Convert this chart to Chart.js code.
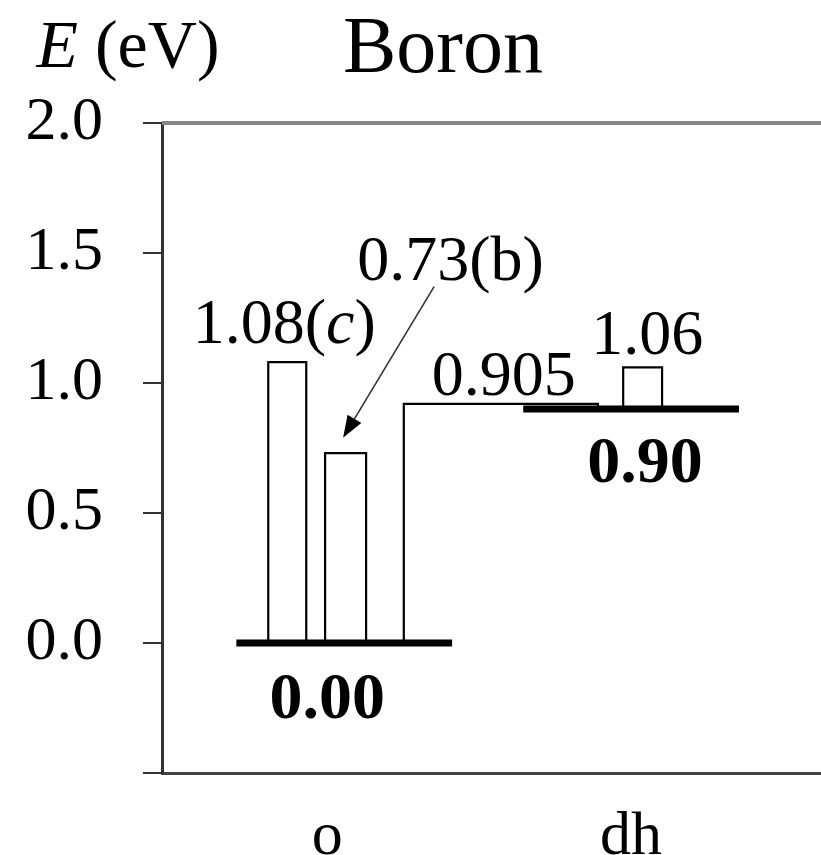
<!DOCTYPE html>
<html><head><meta charset="utf-8">
<script src="https://cdn.jsdelivr.net/npm/chart.js@4.4.1/dist/chart.umd.min.js"></script>
<style>html,body{margin:0;padding:0;background:#fff;overflow:hidden}#wrap{width:821px;height:855px;position:relative}</style>
</head><body><div id="wrap"><canvas id="c" width="821" height="855"></canvas></div>
<script>
// ---- data ----
const categories = ['o', 'dh'];
const yTickValues = [-0.5, 0.0, 0.5, 1.0, 1.5, 2.0];
const yTickLabels = ['', '0.0', '0.5', '1.0', '1.5', '2.0'];
const levelValues = [0.00, 0.90];
const levelLabels = ['0.00', '0.90'];
const oBarValues = [1.08, 0.73];
const oBarNames = ['1.08', '0.73'];
const oBarTags = ['c', 'b'];
const stepValue = 0.92;
const stepLabel = '0.905';
const dhBarBase = 0.90;
const dhBarValue = 1.06;
const dhBarLabel = '1.06';
const titleText = 'Boron';
const yAxisVar = 'E';
const yAxisUnit = ' (eV)';

// ---- layout (x offsets in category units) ----
const SERIF = "'Liberation Serif','Times New Roman',Times,serif";
const LEVEL_SPAN = [[-0.299, 0.411], [-0.355, 0.355]];
const O_BAR_SPAN = [[-0.194, -0.069], [-0.007, 0.128]];
const STEP_SPAN = [0.252, 0.891];
const DH_BAR_SPAN = [-0.026, 0.102];
const catX = i => i + 1;

const rect = (x0, x1, y0, y1) => [{x:x0,y:y0},{x:x0,y:y1},{x:x1,y:y1},{x:x1,y:y0}];
const lineStyle = (w) => ({showLine:true, pointRadius:0, borderColor:'#000', borderWidth:w,
  borderJoinStyle:'miter', borderCapStyle:'butt', fill:false, tension:0});

const datasets = [];
levelValues.forEach((v, i) => {
  datasets.push(Object.assign({data:[{x:catX(i)+LEVEL_SPAN[i][0], y:v},{x:catX(i)+LEVEL_SPAN[i][1], y:v}]}, lineStyle(7)));
});
oBarValues.forEach((v, j) => {
  datasets.push(Object.assign({data:rect(catX(0)+O_BAR_SPAN[j][0], catX(0)+O_BAR_SPAN[j][1], levelValues[0], v)}, lineStyle(2.2)));
});
datasets.push(Object.assign({data:[
  {x:catX(0)+STEP_SPAN[0], y:levelValues[0]},
  {x:catX(0)+STEP_SPAN[0], y:stepValue},
  {x:catX(0)+STEP_SPAN[1], y:stepValue},
  {x:catX(0)+STEP_SPAN[1], y:dhBarBase}]}, lineStyle(2.2)));
datasets.push(Object.assign({data:rect(catX(1)+DH_BAR_SPAN[0], catX(1)+DH_BAR_SPAN[1], dhBarBase, dhBarValue)}, lineStyle(2.2)));

function drawParts(ctx, parts, cx, base, size) {
  let total = 0;
  parts.forEach(p => { ctx.font = (p.it ? 'italic ' : '') + size + 'px ' + SERIF; p.w = ctx.measureText(p.t).width; total += p.w; });
  let x = cx - total / 2;
  ctx.textAlign = 'left';
  parts.forEach(p => { ctx.font = (p.it ? 'italic ' : '') + size + 'px ' + SERIF; ctx.fillText(p.t, x, base); x += p.w; });
}
function drawBold(ctx, t, cx, base, size) {
  ctx.font = 'bold ' + size + 'px ' + SERIF;
  ctx.textAlign = 'center';
  ctx.fillText(t, cx, base);
}

const annot = {
  id: 'annot',
  beforeDatasetsDraw(chart) {
    const {ctx, chartArea} = chart;
    ctx.save();
    ctx.strokeStyle = '#868686';
    ctx.lineWidth = 4;
    ctx.beginPath();
    ctx.moveTo(chartArea.left, chartArea.top);
    ctx.lineTo(chartArea.right, chartArea.top);
    ctx.stroke();
    ctx.restore();
  },
  afterDatasetsDraw(chart) {
    const {ctx} = chart;
    const xs = chart.scales.x, ys = chart.scales.y;
    const px = v => xs.getPixelForValue(v), py = v => ys.getPixelForValue(v);
    ctx.save();
    ctx.fillStyle = '#000';
    ctx.textBaseline = 'alphabetic';
    // title and axis label
    drawParts(ctx, [{t:yAxisVar, it:true}, {t:yAxisUnit}], 38 + 90, 67, 68);
    ctx.font = '80px ' + SERIF; ctx.textAlign = 'left';
    ctx.fillText(titleText, 343, 72);

    // o bars labels
    const b0c = px(catX(0) + (O_BAR_SPAN[0][0] + O_BAR_SPAN[0][1]) / 2);
    drawParts(ctx, [{t:oBarNames[0] + '('}, {t:oBarTags[0], it:true}, {t:')'}], b0c - 3, py(oBarValues[0]) - 19, 64);
    const b1c = px(catX(0) + (O_BAR_SPAN[1][0] + O_BAR_SPAN[1][1]) / 2);
    const tipX = b1c - 2.5, tipY = py(oBarValues[1]) - 15.5;
    const sX = tipX + 91, sY = tipY - 151;
    drawParts(ctx, [{t:oBarNames[1] + '(' + oBarTags[1] + ')'}], sX + 16.5, sY - 7, 64);
    // arrow
    const ang = Math.atan2(tipY - sY, tipX - sX);
    const hl = 22, hw = 8;
    const bx = tipX - hl * Math.cos(ang), by = tipY - hl * Math.sin(ang);
    ctx.strokeStyle = '#333'; ctx.lineWidth = 1.6;
    ctx.beginPath(); ctx.moveTo(sX, sY); ctx.lineTo(bx, by); ctx.stroke();
    ctx.fillStyle = '#000';
    ctx.beginPath();
    ctx.moveTo(tipX, tipY);
    ctx.lineTo(bx + hw * Math.sin(ang), by - hw * Math.cos(ang));
    ctx.lineTo(bx - hw * Math.sin(ang), by + hw * Math.cos(ang));
    ctx.closePath(); ctx.fill();

    // step label
    const sc = px(catX(0) + (STEP_SPAN[0] + STEP_SPAN[1]) / 2);
    drawParts(ctx, [{t:stepLabel}], sc + 3, py(stepValue) - 9, 64);
    // dh bar label
    const dc = px(catX(1) + (DH_BAR_SPAN[0] + DH_BAR_SPAN[1]) / 2);
    drawParts(ctx, [{t:dhBarLabel}], dc + 4.5, py(dhBarValue) - 13.5, 64);
    // level labels (bold)
    drawBold(ctx, levelLabels[0], px(catX(0)), py(levelValues[0]) + 75, 66);
    drawBold(ctx, levelLabels[1], px(catX(1)) + 14, py(levelValues[1]) + 73, 66);
    ctx.restore();
  }
};

new Chart(document.getElementById('c').getContext('2d'), {
  type: 'scatter',
  data: {datasets},
  options: {
    responsive: false, animation: false, devicePixelRatio: 1,
    layout: {padding: {top: 123, right: 0, left: 0, bottom: 0}},
    plugins: {legend: {display: false}, tooltip: {enabled: false}, title: {display: false}},
    scales: {
      x: {
        type: 'linear', min: 0.4563, max: 2.625, position: 'bottom',
        afterBuildTicks: s => { s.ticks = categories.map((c, i) => ({value: catX(i)})); },
        ticks: {callback: v => categories[Math.round(v) - 1] ?? '', font: {family: SERIF, size: 62},
                color: '#000', padding: 20, maxRotation: 0, autoSkip: false},
        grid: {display: false},
        border: {display: true, color: '#444', width: 3},
        afterFit: s => { s.height = 82; }
      },
      y: {
        type: 'linear', min: -0.5, max: 2.0,
        afterBuildTicks: s => { s.ticks = yTickValues.map(v => ({value: v})); },
        ticks: {callback: (v, i) => yTickLabels[i], font: {family: SERIF, size: 62}, color: '#000', padding: 40},
        grid: {drawOnChartArea: false, drawTicks: true, tickLength: 19, color: '#333', lineWidth: 2},
        border: {display: true, color: '#333', width: 3},
        afterFit: s => { s.width = 162; }
      }
    }
  },
  plugins: [annot]
});
</script>
</body></html>
